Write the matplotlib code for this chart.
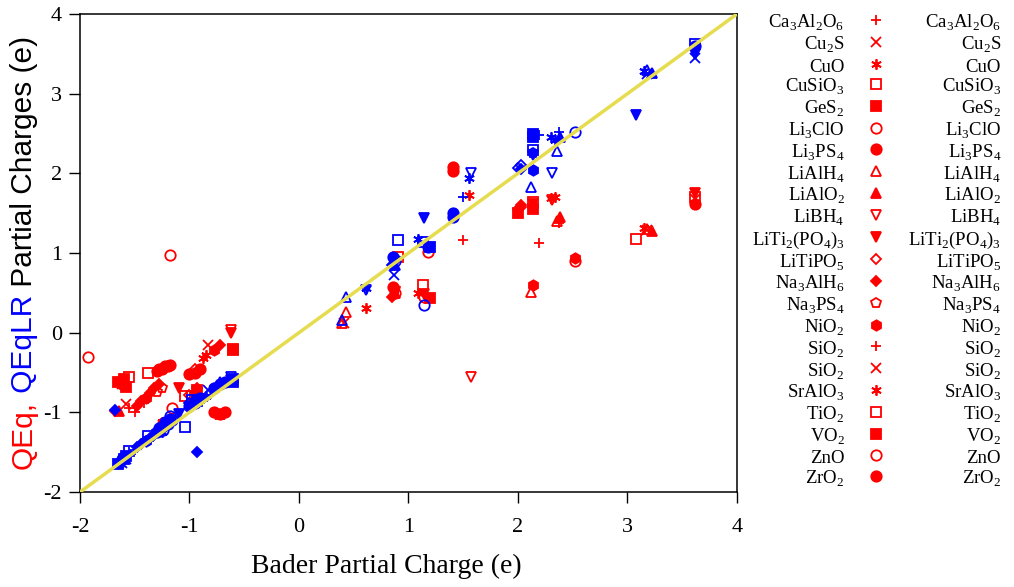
import re
import numpy as np
import matplotlib
matplotlib.use("Agg")
import matplotlib.pyplot as plt
from matplotlib.lines import Line2D

plt.rcParams["axes.unicode_minus"] = False

nan = np.nan

# compounds, in legend order
compounds = ["Ca3Al2O6", "Cu2S", "CuO", "CuSiO3", "GeS2", "Li3ClO", "Li3PS4",
             "LiAlH4", "LiAlO2", "LiBH4", "LiTi2(PO4)3", "LiTiPO5", "Na3AlH6",
             "Na3PS4", "NiO2", "SiO2", "SiO2", "SrAlO3", "TiO2", "VO2", "ZnO", "ZrO2"]
markers = ["+", "x", (6, 2, 0), "s", "s", "o", "o", "^", "^", "v", "v", "D", "D",
           "p", "h", "+", "x", (6, 2, 0), "s", "s", "o", "o"]
filled = [True, True, True, False, True, False, True, False, True, False, True,
          False, True, False, True, True, True, True, False, True, False, True]

# Bader charge of each atom type (x), and the QEq / QEqLR charges (y)
bader = [
    [1.50, 2.19, -1.50, -1.42],
    [0.41, 0.87, -0.83],
    [0.61, -0.88],
    [1.13, 3.08, -1.38, -1.04],
    [2.00, 2.14, -0.93, -0.60],
    [0.88, -1.93, -1.18],
    [0.86, 1.41, -1.28, -1.22, -1.18],
    [0.39, 0.43, 2.12, 2.36, 3.18, -0.72],
    [0.88, 2.38, 3.22, -1.64],
    [0.61, 1.57, 2.31, -0.62],
    [1.14, 2.14, 3.08, 3.62, -0.62, -1.10],
    [2.00, 2.03, -1.00, -0.95],
    [-1.68, -0.93, 0.85, 2.03, -1.48, -1.44, -1.40, -1.36, -1.32, -1.28, -0.72],
    [0.88, 2.14, -1.30, -1.25],
    [2.52, 2.14, -1.40, -0.78],
    [2.37, 3.62, -1.55, -1.60],
    [3.18, 3.62, -1.58, -1.62],
    [1.09, 1.55, 2.30, 2.34, 3.15, -1.25, -0.85],
    [0.90, 2.14, 3.62, -1.55, -0.98],
    [1.20, 2.14, -1.65, -1.60, -1.58, -0.60],
    [1.18, 1.14, -1.16, -1.24, 2.52],
    [1.41, 3.62, -1.30, -1.25, -1.20, -1.00, -0.95, -0.90, -0.78, -0.72, -0.68, -1.62],
]
qeq = [
    [1.16, 1.12, -1.00, -0.88],
    [0.12, nan, -0.15],
    [0.31, -0.32],
    [0.60, 1.18, -0.51, -0.80],
    [1.50, nan, -0.72, -0.20],
    [0.50, -0.30, 0.97],
    [0.57, 2.08, -0.45, -0.42, -0.40],
    [0.12, 0.26, 0.51, 1.40, 1.30, -1.02],
    [0.50, 1.45, 1.27, -0.98],
    [nan, -0.56, 1.66, 0.03],
    [0.48, 1.62, nan, 1.75, 0.00, -0.70],
    [1.55, 1.58, -0.78, -0.45],
    [-0.98, -0.70, 0.45, 1.60, -0.92, -0.86, -0.82, -0.76, -0.70, -0.64, -0.15],
    [0.55, 1.55, -0.75, -0.70],
    [0.94, 0.60, -0.82, -0.22],
    [1.38, 1.65, -0.95, -0.62],
    [1.29, 1.68, -0.90, -0.65],
    [0.50, 1.73, 1.69, 1.70, 1.31, -1.12, -0.28],
    [0.95, 1.64, 1.70, -0.56, -0.80],
    [0.44, 1.55, -0.62, -0.58, -0.68, -0.22],
    [1.01, 0.45, -0.95, -1.13, 0.90],
    [2.03, 1.62, -0.48, -0.45, -0.42, -0.52, -0.50, -0.46, -1.00, -1.02, -1.00, -0.65],
]
qeqlr = [
    [1.70, 2.48, -1.47, -1.36],
    [nan, 0.72, -0.72],
    [0.56, -0.82],
    [1.14, nan, -1.30, -1.18],
    [nan, 2.50, -0.86, -0.62],
    [0.90, nan, -1.05],
    [0.95, 1.50, -1.20, -1.12, -1.08],
    [0.16, 0.45, 1.83, 2.28, 3.30, -0.62],
    [0.85, 2.46, 3.26, -1.62],
    [0.54, 2.00, 2.00, -0.56],
    [1.44, 2.23, 2.73, 3.50, -0.60, -1.02],
    [2.07, 2.10, -0.88, -0.85],
    [-0.97, -1.50, 0.85, 2.05, -1.44, -1.40, -1.36, -1.32, -1.28, -1.22, -0.66],
    [0.92, 2.25, -1.25, -1.18],
    [nan, 2.04, -1.36, -0.70],
    [2.52, 3.55, -1.50, -1.55],
    [3.25, 3.45, -1.58, -1.63],
    [1.18, 1.94, 2.46, 2.42, 3.28, -1.25, -0.80],
    [1.16, 2.29, 3.62, -1.48, -0.85],
    [1.08, 2.46, -1.65, -1.58, -1.55, -0.58],
    [1.08, 0.35, -1.10, -1.22, 2.52],
    [1.45, 3.60, -1.25, -1.18, -1.15, -0.92, -0.88, -0.82, -0.70, -0.65, -0.62, -1.58],
]

ticks = [-2, -1, 0, 1, 2, 3, 4]
ylabel_parts = ["QEq,", " QEqLR", " Partial Charges (e)"]
ylabel_colors = ["#ff0000", "#0000ff", "black"]

RED, BLUE = "#ff0000", "#0000ff"


def formula(s):
    # digits become subscripts
    return re.sub(r"(\d+)", r"$_\\mathregular{\1}$", s)


def msize(m):
    if m in ("s",):
        return 6.5
    if m in ("D",):
        return 5.5
    return 7.5


fig = plt.figure(figsize=(10.14, 5.87), dpi=100)
ax = fig.add_axes([80 / 1014, 95 / 587, 657 / 1014, 478 / 587])

for col, data in ((RED, qeq), (BLUE, qeqlr)):
    for m, f, xs, ys in zip(markers, filled, bader, data):
        ax.plot(xs, ys, ls="none", marker=m, color=col,
                mfc=col if f else "none", ms=msize(m), mew=1.3)

ax.plot([-2, 4], [-2, 4], color="#e6dc50", lw=2.5, zorder=5)

ax.set_xlim(-2, 4)
ax.set_ylim(-2, 4)
ax.set_xticks(ticks)
ax.set_yticks(ticks)
ax.tick_params(direction="out", length=8, width=1, top=False, right=False)
ax.tick_params(axis="x", pad=11)
ax.tick_params(axis="y", pad=5)
for lab in ax.get_xticklabels() + ax.get_yticklabels():
    lab.set_fontfamily("Liberation Serif")
    lab.set_fontsize(16)
for sp in ax.spines.values():
    sp.set_linewidth(1.1)
ax.set_xlabel("Bader Partial Charge (e)", fontfamily="Liberation Serif", fontsize=20)
ax.xaxis.set_label_coords(0.466, -0.13)

# legend: red markers with names, then a second column of names
labels = [formula(c) for c in compounds]
handles = [Line2D([], [], ls="none", marker=m, color=RED,
                  mfc=RED if f else "none", ms=msize(m), mew=1.3)
           for m, f in zip(markers, filled)]
blanks = [Line2D([], [], ls="none") for _ in compounds]
lprop = {"family": "Liberation Serif", "size": 13.5}
lkw = dict(loc="upper right", bbox_transform=fig.transFigure, frameon=False,
           markerfirst=False, handleheight=1.2, labelspacing=0.03,
           borderpad=0, borderaxespad=0, prop=lprop)
leg1 = ax.legend(handles, labels, bbox_to_anchor=(884 / 1014, 1 - 12 / 587),
                 handlelength=0.9, handletextpad=1.2, **lkw)
ax.add_artist(leg1)
ax.legend(blanks, labels, bbox_to_anchor=(1001 / 1014, 1 - 12 / 587),
          handlelength=0, handletextpad=0, **lkw)

# multi-coloured y label, built piece by piece
fig.canvas.draw()
renderer = fig.canvas.get_renderer()
ypos = 118 / 587
for txt, col in zip(ylabel_parts, ylabel_colors):
    t = fig.text(24 / 1014, ypos, txt, color=col, rotation=90, ha="center", va="bottom",
                 fontsize=21.5, fontfamily="Liberation Sans")
    ypos = t.get_window_extent(renderer).y1 / fig.bbox.height

fig.savefig("out.png", dpi=100)
